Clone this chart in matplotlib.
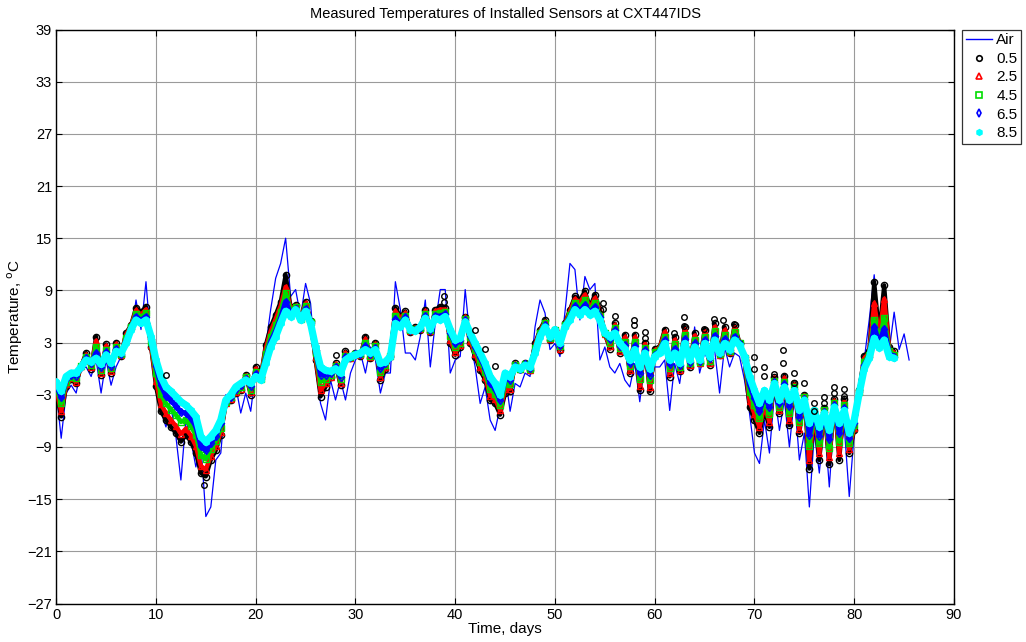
import numpy as np
import matplotlib
matplotlib.use("Agg")
import matplotlib.pyplot as plt
from matplotlib.lines import Line2D

plt.rcParams['font.family'] = ['Liberation Sans', 'DejaVu Sans']

# ---------------- data ----------------
air_days = np.arange(0, 85.51, 0.5)
air = [-2.5, -8.0, -2.8, -1.9, -2.8, 0.0, 0.2, -0.9, 1.0, -2.8,
       1.0, -1.9, 0.2, 1.4, 2.9, 3.7, 7.9, 4.5, 10.0, 2.9,
       -0.9, -4.9, -6.7, -4.4, -7.8, -12.8, -5.9, -8.2, -11.3, -8.6,
       -17.0, -15.9, -10.5, -9.7, -3.0, -4.0, -2.0, -5.1, -2.8, -4.9,
       -0.2, -1.3, 2.5, 6.8, 10.4, 12.1, 15.0, 8.3, 9.1, 6.0,
       9.8, 7.5, 0.2, -4.0, -5.9, -1.3, -3.6, -1.3, -3.6, -0.5,
       1.0, 1.8, -0.5, 2.5, 1.0, -2.8, -0.5, -0.5, 10.0, 6.8,
       1.8, 1.8, 1.0, 3.7, 7.9, 0.2, 5.2, 9.1, 9.1, -0.5,
       1.0, 1.4, 9.1, 3.3, 0.2, -4.0, -2.1, -5.9, -7.1, -4.4,
       -0.5, -4.9, -1.7, -2.1, -0.5, -0.9, 4.8, 7.9, 6.4, 2.2,
       2.9, 1.4, 6.5, 12.1, 11.4, 5.6, 10.6, 9.1, 9.8, 1.0,
       2.5, 0.2, -0.5, 0.6, -1.3, -2.1, 0.6, -3.8, 1.0, -2.5,
       0.2, 0.2, 1.0, -4.8, 0.6, -1.7, 2.5, -0.2, 4.8, -0.5,
       1.8, 0.6, 2.2, -2.8, 2.5, 0.2, 1.8, 1.4, -1.3, -5.1,
       -9.7, -10.9, -5.9, -9.7, -2.8, -7.1, -3.6, -9.0, -3.2, -10.5,
       -7.4, -15.9, -7.4, -12.0, -5.9, -13.6, -5.1, -10.5, -6.7, -14.7,
       -7.4, -4.0, 1.0, 5.6, 10.8, 4.0, 8.0, 2.0, 6.5, 2.2,
       4.0, 1.0]

sensor_days = np.arange(0, 84.01, 0.5)
s05 = [-2.5, -5.5, -2.0, -1.2, -1.7, 0.3, 1.8, 0.0, 3.7, -0.7,
       2.8, -0.5, 3.0, 1.5, 4.1, 5.0, 7.0, 6.5, 7.1, 2.5,
       -2.0, -4.9, -5.9, -6.7, -7.4, -8.4, -7.6, -8.4, -9.7, -12.0,
       -12.4, -10.5, -9.4, -7.6, -4.0, -3.6, -2.8, -2.4, -0.7, -3.0,
       0.2, -1.0, 2.7, 4.8, 6.2, 7.7, 10.8, 7.1, 7.3, 5.8,
       7.7, 5.5, 1.0, -3.2, -2.1, -1.0, 0.6, -1.9, 2.0, 1.2,
       1.8, 1.5, 3.7, 1.2, 3.0, -1.3, 0.0, 1.5, 7.0, 6.0,
       6.6, 4.2, 4.8, 4.5, 6.8, 4.2, 6.8, 7.1, 7.0, 3.0,
       1.6, 2.5, 6.0, 3.0, 1.4, -0.2, -1.3, -3.6, -4.0, -5.3,
       -2.8, -2.6, 0.6, 0.0, 0.6, -0.2, 2.9, 4.5, 5.6, 3.3,
       4.5, 2.2, 5.2, 6.8, 8.3, 7.9, 8.9, 7.1, 8.5, 6.8,
       4.0, 2.3, 5.2, 1.8, 3.9, -0.5, 3.9, -2.5, 3.0, -2.6,
       2.3, 2.5, 4.5, -0.9, 3.7, -0.3, 4.8, 0.2, 4.1, 0.6,
       4.5, 0.4, 5.2, 1.6, 4.8, 1.8, 5.0, 3.0, 1.0, -4.4,
       -5.9, -7.4, -4.8, -6.7, -1.0, -5.1, -0.8, -6.5, -1.7, -7.4,
       -3.0, -11.5, -5.0, -10.5, -4.5, -11.0, -3.5, -10.5, -3.5, -9.7,
       -7.0, -2.5, 1.5, 2.0, 10.0, 4.0, 9.6, 2.5, 2.0]
s25 = [-2.3, -4.9, -1.8, -1.1, -1.5, 0.3, 1.6, 0.2, 3.2, -0.5,
       2.6, -0.3, 2.8, 1.6, 3.9, 4.9, 6.7, 6.2, 6.8, 2.7,
       -1.4, -4.1, -5.1, -5.9, -6.6, -7.5, -6.9, -7.7, -8.9, -11.2,
       -11.6, -10.0, -8.9, -7.3, -3.9, -3.5, -2.7, -2.3, -0.8, -2.7,
       0.0, -1.1, 2.3, 4.3, 5.7, 7.2, 9.4, 6.9, 7.2, 5.8,
       7.5, 5.4, 1.3, -2.5, -1.7, -0.9, 0.5, -1.6, 1.8, 1.2,
       1.8, 1.6, 3.4, 1.3, 2.8, -0.9, 0.2, 1.5, 6.6, 5.8,
       6.4, 4.3, 4.7, 4.6, 6.6, 4.3, 6.6, 6.8, 6.8, 3.3,
       1.9, 2.7, 5.9, 3.2, 1.7, 0.2, -0.9, -3.1, -3.5, -4.8,
       -2.3, -2.3, 0.5, 0.0, 0.6, -0.1, 2.7, 4.3, 5.4, 3.4,
       4.5, 2.3, 5.1, 6.6, 8.0, 7.6, 8.5, 6.9, 8.1, 6.6,
       4.0, 2.6, 5.0, 2.0, 3.6, -0.2, 3.6, -2.0, 2.8, -2.1,
       2.1, 2.4, 4.2, -0.5, 3.3, -0.1, 4.4, 0.4, 3.8, 0.7,
       4.2, 0.6, 4.8, 1.6, 4.4, 1.9, 4.7, 2.9, 1.1, -3.7,
       -5.2, -6.7, -4.3, -6.1, -1.1, -4.8, -1.1, -5.9, -1.9, -6.9,
       -3.1, -10.5, -5.0, -9.7, -4.6, -10.2, -3.7, -9.7, -3.8, -9.2,
       -6.8, -2.6, 1.2, 1.8, 7.5, 3.7, 8.0, 2.3, 1.8]
s45 = [-2.0, -4.0, -1.5, -0.9, -1.1, 0.3, 1.4, 0.4, 2.5, -0.1,
       2.2, 0.1, 2.5, 1.7, 3.5, 4.8, 6.3, 5.9, 6.4, 3.1,
       -0.5, -2.9, -4.0, -4.7, -5.3, -6.1, -5.9, -6.6, -7.6, -9.9,
       -10.4, -9.2, -8.3, -6.8, -3.8, -3.3, -2.5, -2.1, -1.0, -2.4,
       -0.4, -1.2, 1.7, 3.7, 5.0, 6.5, 8.7, 6.6, 7.1, 5.7,
       7.2, 5.4, 1.8, -1.5, -1.2, -0.7, 0.3, -1.2, 1.5, 1.3,
       1.7, 1.7, 3.0, 1.5, 2.6, -0.4, 0.4, 1.5, 6.1, 5.4,
       6.1, 4.4, 4.6, 4.7, 6.3, 4.4, 6.3, 6.4, 6.5, 3.8,
       2.5, 3.0, 5.7, 3.6, 2.2, 0.8, -0.4, -2.3, -2.9, -4.2,
       -1.7, -1.8, 0.4, 0.0, 0.5, 0.0, 2.4, 4.1, 5.2, 3.5,
       4.5, 2.6, 5.0, 6.2, 7.6, 7.1, 7.9, 6.7, 7.6, 6.2,
       4.1, 3.0, 4.7, 2.4, 3.1, 0.3, 3.1, -1.2, 2.4, -1.3,
       1.9, 2.2, 3.7, 0.1, 2.8, 0.2, 3.9, 0.6, 3.3, 0.8,
       3.7, 0.9, 4.3, 1.7, 3.9, 2.0, 4.2, 2.9, 1.2, -2.7,
       -4.2, -5.7, -3.7, -5.2, -1.4, -4.4, -1.5, -5.1, -2.1, -6.1,
       -3.3, -8.9, -4.9, -8.6, -4.8, -9.1, -4.0, -8.4, -4.2, -8.6,
       -6.5, -2.7, 0.8, 1.6, 5.6, 3.2, 5.8, 2.0, 1.6]
s65 = [-1.8, -3.3, -1.2, -0.7, -0.8, 0.2, 1.2, 0.6, 1.8, 0.2,
       1.9, 0.3, 2.3, 1.7, 3.2, 4.6, 6.0, 5.5, 6.0, 3.4,
       0.3, -1.9, -3.1, -3.6, -4.3, -5.0, -5.1, -5.7, -6.6, -8.9,
       -9.4, -8.5, -7.7, -6.3, -3.7, -3.2, -2.3, -1.9, -1.2, -2.0,
       -0.6, -1.2, 1.1, 3.1, 4.3, 5.8, 7.7, 6.3, 6.9, 5.7,
       6.9, 5.3, 2.1, -0.7, -0.7, -0.5, 0.2, -0.9, 1.3, 1.4,
       1.7, 1.7, 2.6, 1.7, 2.4, 0.1, 0.6, 1.4, 5.7, 5.1,
       5.9, 4.4, 4.4, 4.7, 6.1, 4.5, 6.1, 6.0, 6.3, 4.1,
       2.9, 3.3, 5.6, 3.8, 2.5, 1.3, 0.1, -1.6, -2.3, -3.6,
       -1.1, -1.3, 0.3, 0.0, 0.5, 0.1, 2.1, 3.9, 5.0, 3.6,
       4.5, 2.7, 4.9, 5.9, 7.2, 6.6, 7.3, 6.4, 7.1, 5.9,
       4.1, 3.4, 4.4, 2.6, 2.7, 0.6, 2.6, -0.5, 2.1, -0.7,
       1.6, 2.0, 3.3, 0.5, 2.3, 0.4, 3.4, 0.8, 2.9, 0.9,
       3.3, 1.2, 3.8, 1.8, 3.4, 2.1, 3.7, 2.8, 1.3, -1.8,
       -3.4, -4.9, -3.1, -4.4, -1.5, -4.0, -1.8, -4.3, -2.3, -5.5,
       -3.5, -7.6, -4.9, -7.7, -5.0, -8.1, -4.2, -7.4, -4.5, -8.0,
       -6.2, -2.7, 0.4, 1.4, 4.8, 2.8, 4.6, 1.7, 1.4]
s85 = [-1.5, -2.6, -0.9, -0.5, -0.5, 0.2, 1.0, 0.8, 1.2, 0.5,
       1.6, 0.6, 2.0, 1.8, 2.9, 4.5, 5.6, 5.2, 5.6, 3.7,
       1.0, -0.9, -2.1, -2.6, -3.2, -3.8, -4.2, -4.8, -5.5, -7.8,
       -8.4, -7.8, -7.1, -5.9, -3.6, -3.0, -2.1, -1.7, -1.3, -1.7,
       -0.9, -1.3, 0.6, 2.5, 3.7, 5.2, 6.6, 6.0, 6.8, 5.6,
       6.6, 5.2, 2.5, 0.2, -0.2, -0.3, 0.0, -0.5, 1.0, 1.4,
       1.6, 1.8, 2.2, 1.8, 2.2, 0.6, 0.8, 1.4, 5.2, 4.8,
       5.6, 4.5, 4.3, 4.8, 5.8, 4.6, 5.8, 5.6, 6.0, 4.5,
       3.3, 3.5, 5.4, 4.1, 2.9, 1.8, 0.6, -0.9, -1.7, -3.0,
       -0.5, -0.9, 0.2, 0.0, 0.4, 0.2, 1.8, 3.7, 4.8, 3.7,
       4.5, 2.9, 4.8, 5.6, 6.8, 6.2, 6.8, 6.2, 6.6, 5.6,
       4.1, 3.7, 4.1, 2.9, 2.3, 1.0, 2.2, 0.2, 1.8, 0.0,
       1.4, 1.8, 2.9, 1.0, 1.8, 0.6, 2.9, 1.0, 2.5, 1.0,
       2.9, 1.4, 3.3, 1.8, 2.9, 2.2, 3.3, 2.7, 1.4, -0.9,
       -2.5, -4.0, -2.5, -3.6, -1.7, -3.6, -2.1, -3.6, -2.5, -4.8,
       -3.6, -6.3, -4.8, -6.7, -5.1, -7.1, -4.4, -6.3, -4.8, -7.4,
       -5.9, -2.8, 0.0, 1.2, 3.5, 2.4, 3.3, 1.4, 1.2]

# isolated 0.5 m readings standing apart from the band
s05_extra_days = [11.0, 14.8, 28.0, 38.9, 38.9, 42.0, 43.0, 44.0, 54.8, 54.8,
                  56.0, 57.9, 57.9, 59.0, 59.0, 61.9, 62.9, 62.9, 64.9, 65.9,
                  66.8, 67.9, 70.0, 70.0, 71.0, 71.0, 72.0, 72.9, 72.9, 74.0,
                  74.0, 75.0, 76.0, 76.0, 77.0, 77.0, 78.0, 78.0, 79.0, 79.0]
s05_extra_vals = [-0.7, -13.4, 1.6, 8.4, 7.7, 4.5, 2.3, 0.3, 7.5, 6.9,
                  6.1, 5.6, 5.0, 4.2, 3.5, 4.1, 5.9, 4.9, 4.6, 5.7,
                  5.6, 5.1, 1.3, 0.0, 0.2, -0.8, -0.6, 2.2, 0.6, -0.5,
                  -1.6, -1.6, -3.9, -4.9, -3.2, -4.0, -2.1, -2.8, -2.3, -3.1]

legend_labels = ['Air', '0.5', '2.5', '4.5', '6.5', '8.5']
x_ticks = list(range(0, 91, 10))
y_ticks = list(range(-27, 40, 6))

# ---------------- figure ----------------
fig = plt.figure(figsize=(10.26, 6.42), dpi=100)
ax = fig.add_axes([56.2 / 1026, 1 - 603.5 / 642, (954 - 56.2) / 1026, (603.5 - 29.5) / 642])

ax.plot(air_days, air, color='#0000ff', lw=0.9, zorder=2)

series = [
    (s05, 'black', 'o', 3, 3.0, 'none'),
    (s25, 'red', '^', 4, 3.2, 'none'),
    (s45, '#00dd00', 's', 5, 3.4, 'none'),
    (s65, '#0000ff', 'd', 6, 3.8, 'none'),
    (s85, 'cyan', 'h', 7, 5.2, 'cyan'),
]
for vals, col, mk, z, lw, mfc in series:
    ax.plot(sensor_days, vals, color=col, lw=lw, solid_capstyle='round',
            solid_joinstyle='round', zorder=z)
    ax.plot(sensor_days, vals, ls='none', marker=mk, ms=4.5, mfc=mfc, mec=col,
            mew=1.0, zorder=z)
ax.plot(s05_extra_days, s05_extra_vals, ls='none', marker='o', ms=4, mfc='none',
        mec='black', mew=1.0, zorder=8)

ax.set_xlim(0, 90)
ax.set_ylim(-27, 39)
ax.set_xticks(x_ticks)
ax.set_yticks(y_ticks)
ax.grid(True, color='#9a9a9a', lw=0.8, ls='-')
ax.set_axisbelow(True)
ax.tick_params(direction='in', top=True, right=True, length=4, labelsize=10.5,
               width=0.8, pad=3)
for sp in ax.spines.values():
    sp.set_linewidth(1.0)

ax.set_title('Measured Temperatures of Installed Sensors at CXT447IDS',
             fontsize=10.5, pad=8)
ax.set_xlabel('Time, days', fontsize=11, labelpad=0)
ax.set_ylabel('Temperature, $^{\\mathrm{o}}$C', fontsize=11, labelpad=2)

handles = [Line2D([], [], color='#0000ff', lw=1.0)]
for vals, col, mk, z, lw, mfc in series:
    handles.append(Line2D([], [], ls='none', marker=mk, ms=4, mfc=mfc,
                          mec=col, mew=1.2))
leg = ax.legend(handles, legend_labels, loc='upper left', bbox_to_anchor=(1.009, 1.0),
                fontsize=11, frameon=True, fancybox=False,
                edgecolor='black', handlelength=1.7, handletextpad=0.3,
                labelspacing=0.3, borderpad=0.25, borderaxespad=0)
leg.get_frame().set_linewidth(0.9)

fig.savefig('out.png', dpi=100)
